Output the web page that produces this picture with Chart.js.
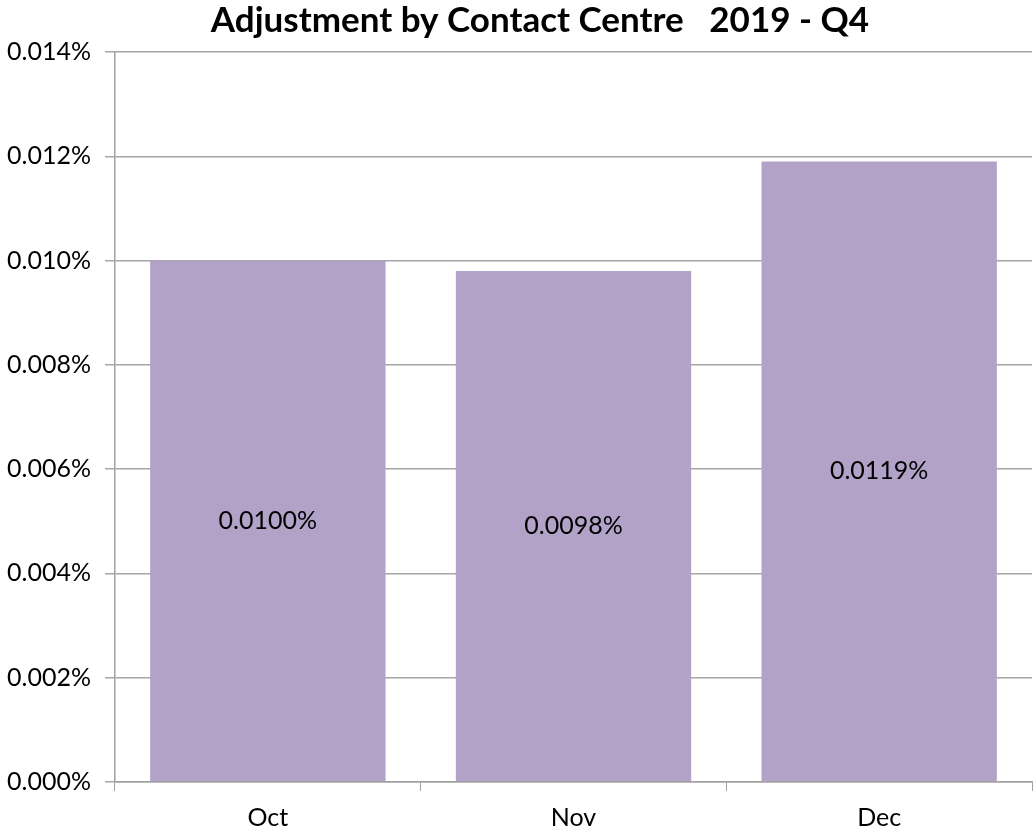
<!DOCTYPE html>
<html>
<head>
<meta charset="utf-8">
<script src="https://cdn.jsdelivr.net/npm/chart.js@4"></script>
<style>
html,body{margin:0;padding:0;background:#fff;}
#wrap{width:1036px;height:832px;}
</style>
</head>
<body>
<div id="wrap"><canvas id="c" width="1036" height="832"></canvas></div>
<script>
const categories = ["Oct", "Nov", "Dec"];
const values = [0.0100, 0.0098, 0.0119];
const valueLabels = ["0.0100%", "0.0098%", "0.0119%"];
const titleText = "Adjustment by Contact Centre   2019 - Q4";

const FONT = "Lato, 'Open Sans', sans-serif";

const centerLabels = {
  id: 'centerLabels',
  afterDatasetsDraw(chart) {
    const ctx = chart.ctx;
    const meta = chart.getDatasetMeta(0);
    ctx.save();
    ctx.font = "25px " + FONT;
    ctx.fillStyle = "#000";
    ctx.textAlign = "center";
    ctx.textBaseline = "middle";
    meta.data.forEach((bar, i) => {
      const y = (bar.y + bar.base) / 2;
      ctx.fillText(valueLabels[i], bar.x, y);
    });
    ctx.restore();
  }
};

const titlePlugin = {
  id: 'titlePlugin',
  afterDraw(chart) {
    const ctx = chart.ctx;
    ctx.save();
    ctx.font = "bold 35px " + FONT;
    ctx.fillStyle = "#000";
    ctx.textAlign = "center";
    ctx.textBaseline = "middle";
    ctx.fillText(titleText, 540, 21);
    ctx.restore();
  }
};

new Chart(document.getElementById('c'), {
  type: 'bar',
  data: {
    labels: categories,
    datasets: [{
      data: values,
      backgroundColor: '#b3a2c7',
      borderWidth: 0,
      categoryPercentage: 1.0,
      barPercentage: 0.77
    }]
  },
  options: {
    responsive: false,
    animation: false,
    devicePixelRatio: 1,
    layout: { padding: { left: 0, right: 4, top: 52, bottom: 0 } },
    plugins: {
      legend: { display: false },
      tooltip: { enabled: false },
      title: { display: false }
    },
    scales: {
      x: {
        grid: {
          offset: true,
          drawOnChartArea: false,
          drawTicks: true,
          tickLength: 9,
          color: '#a0a0a0'
        },
        border: { color: '#a0a0a0', width: 1.5 },
        ticks: { color: '#000', font: { family: FONT, size: 25 }, padding: 12 },
        afterFit(scale) { scale.height = 50; }
      },
      y: {
        min: 0,
        max: 0.014,
        ticks: {
          stepSize: 0.002,
          color: '#000',
          font: { family: FONT, size: 25 },
          padding: 14,
          callback: v => v.toFixed(3) + '%'
        },
        grid: { color: '#a6a6a6', lineWidth: 1.5, tickLength: 10 },
        border: { color: '#a0a0a0', width: 1.5 },
        afterFit(scale) { scale.width = 115; }
      }
    }
  },
  plugins: [centerLabels, titlePlugin]
});
</script>
</body>
</html>
